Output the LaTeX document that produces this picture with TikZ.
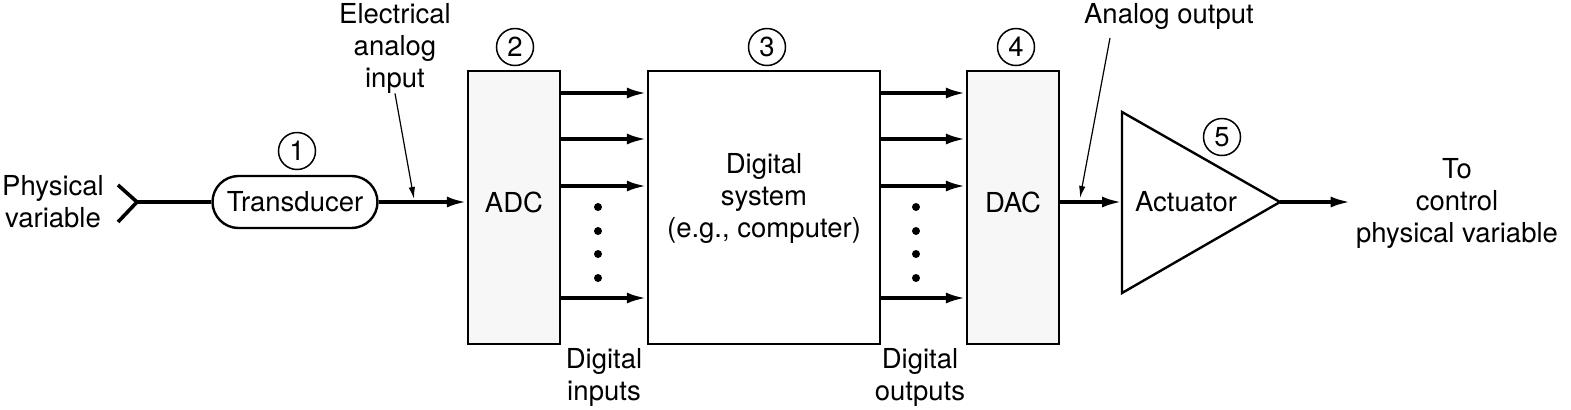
\documentclass[tikz,border=0pt]{standalone}
\usepackage{fontspec}
\setmainfont{TeX Gyre Heros}
\usetikzlibrary{positioning}
\usetikzlibrary{arrows.meta}

\begin{document}
\begin{tikzpicture}[
                x=0.5pt, y=-0.5pt,
                font=\fontsize{13.75pt}{16pt}\selectfont,
                >={Latex[length=10pt, width=5.5pt]},
                signal/.style={line width=1.8pt},
                pointer/.style={line width=0.6pt, -{Latex[length=6pt, width=3.2pt]}},
                roundedboxnode/.style={rectangle, rounded corners=13pt, draw, line width=1.2pt, minimum width=82.5pt, minimum height=26pt, inner sep=0pt},
                stippledboxnode/.style={rectangle, draw, line width=1.2pt, fill=black!3, minimum width=46pt, minimum height=136.5pt, inner sep=0pt},
                plainboxnode/.style={rectangle, draw, line width=1.2pt, minimum width=116pt, minimum height=136.5pt, inner sep=0pt},
                numbernode/.style={circle, draw, line width=0.75pt, minimum size=18.5pt, inner sep=0pt},
                textnode/.style={align=center, inner sep=0pt},
                dotnode/.style={circle, fill, minimum size=4pt, inner sep=0pt},
                ]
                \useasboundingbox (0,0) rectangle (1571,409);

                % blocks
                \node[roundedboxnode] (T) at (295,202) {Transducer};
                \node[stippledboxnode] (ADC) at (514,207.5) {};
                \node[plainboxnode] (DS) at (764,207.5) {};
                \node[stippledboxnode] (DAC) at (1013,207.5) {};
                \node[textnode] (ADCt) at (514,202) {ADC};
                \node[textnode] (DSt) at (764,198) {Digital\\system\\(e.g., computer)};
                \node[textnode] (DACt) at (1013,202) {DAC};

                \coordinate (actin) at (1122,202);
                \coordinate (actout) at (1280,202);
                \draw[line width=1.2pt, line join=miter] (1122,112) -- (actout) -- (1122,293) -- cycle;
                \node[textnode] (ACTt) at (1186,202) {Actuator};

                % numbers
                \node[numbernode] (N1) at (297,151) {1};
                \node[numbernode] (N2) at (515,47) {2};
                \node[numbernode] (N3) at (767,47) {3};
                \node[numbernode] (N4) at (1016,47) {4};
                \node[numbernode] (N5) at (1222,137) {5};

                % labels
                \node[textnode] (PV) at (53,202) {Physical\\variable};
                \node[textnode] (EAI) at (395,48) {Electrical\\analog\\input};
                \node[textnode] (DI) at (604,377) {Digital\\inputs};
                \node[textnode] (DO) at (920,377) {Digital\\outputs};
                \node[textnode] (AO) at (1169,16) {Analog output};
                \node[textnode] (TC) at (1457,203) {To\\control\\physical variable};

                % input fork
                \coordinate (fork) at (137,202);
                \coordinate (forktop) at (118,185);
                \coordinate (forkbot) at (118,222);
                \draw[signal] (forktop) -- (fork) -- (forkbot);
                \draw[signal] (fork) -- (T.west);
                \draw[->, signal] (T.east) -- (T.east -| ADC.west);

                % digital inputs
                \draw[->, signal] (ADC.east |- 0,93) -- (DS.west |- 0,93);
                \draw[->, signal] (ADC.east |- 0,139) -- (DS.west |- 0,139);
                \draw[->, signal] (ADC.east |- 0,186) -- (DS.west |- 0,186);
                \draw[->, signal] (ADC.east |- 0,298) -- (DS.west |- 0,298);
                \node[dotnode] (DI1) at (598,207) {};
                \node[dotnode] (DI2) at (598,231) {};
                \node[dotnode] (DI3) at (598,254) {};
                \node[dotnode] (DI4) at (598,278) {};

                % digital outputs
                \draw[->, signal] (DS.east |- 0,93) -- (DAC.west |- 0,93);
                \draw[->, signal] (DS.east |- 0,139) -- (DAC.west |- 0,139);
                \draw[->, signal] (DS.east |- 0,186) -- (DAC.west |- 0,186);
                \draw[->, signal] (DS.east |- 0,298) -- (DAC.west |- 0,298);
                \node[dotnode] (DO1) at (916,207) {};
                \node[dotnode] (DO2) at (916,231) {};
                \node[dotnode] (DO3) at (916,254) {};
                \node[dotnode] (DO4) at (916,278) {};

                % analog output
                \draw[->, signal] (actin -| DAC.east) -- (actin);
                \draw[->, signal, shorten >=2.5pt] (actout) -- (actout -| TC.west);

                % pointers
                \coordinate (eaitip) at (414,199);
                \coordinate (aotail) at (1110,38);
                \coordinate (aotip) at (1080,198);
                \draw[pointer] (EAI.south) -- (eaitip);
                \draw[pointer] (aotail) -- (aotip);
            \end{tikzpicture}
\end{document}
